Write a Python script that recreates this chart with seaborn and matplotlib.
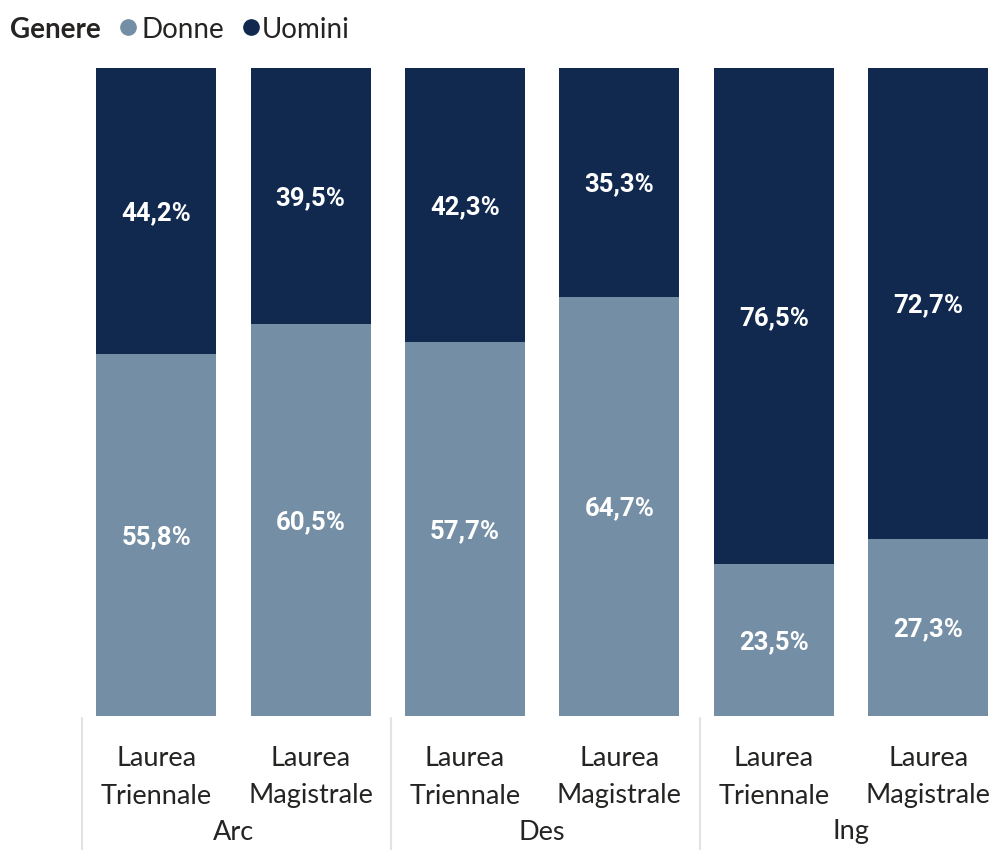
import numpy as np, pandas as pd
import matplotlib
matplotlib.use("Agg")
import matplotlib.pyplot as plt
import matplotlib.transforms as mtransforms
from matplotlib.lines import Line2D
import seaborn as sns

# ---------- data ----------
gruppi = ["Arc", "Arc", "Des", "Des", "Ing", "Ing"]
lauree = ["Laurea\nTriennale", "Laurea\nMagistrale"] * 3
donne = [55.8, 60.5, 57.7, 64.7, 23.5, 27.3]
uomini = [44.2, 39.5, 42.3, 35.3, 76.5, 72.7]

C_DONNE = "#748FA5"
C_UOMINI = "#11294F"
TXT = "#252423"

df = pd.DataFrame({"cat": [f"{g}|{l}" for g, l in zip(gruppi, lauree)],
                   "Donne": donne, "Uomini": uomini})
df["tot"] = df["Donne"] + df["Uomini"]
order = list(df["cat"])

sns.set_theme(style="white")
plt.rcParams["font.family"] = ["Lato", "DejaVu Sans"]

W, H = 1002, 850
fig = plt.figure(figsize=(W / 100, H / 100), dpi=100)
# axes: left edge of first slot ~79px, bars top 68px, bottom 716px
ax = fig.add_axes([79 / W, (H - 716) / H, (W - 79) / W, 648 / H])

bw = 120 / 154.4
sns.barplot(data=df, x="cat", y="tot", order=order, color=C_UOMINI,
            width=bw, saturation=1, linewidth=0, ax=ax)
sns.barplot(data=df, x="cat", y="Donne", order=order, color=C_DONNE,
            width=bw, saturation=1, linewidth=0, ax=ax)

ax.set_xlim(-0.5, -0.5 + (W - 79) / 154.4)
ax.set_ylim(0, 100)
ax.set_xticks([]); ax.set_yticks([])
ax.set_xlabel(""); ax.set_ylabel("")
for s in ax.spines.values():
    s.set_visible(False)

# value labels: baseline placed ~9px below segment centre
lab_tr = mtransforms.offset_copy(ax.transData, fig=fig, y=-9, units="dots")
lab_font = dict(family=["Roboto", "DejaVu Sans"], fontweight="bold",
                fontsize=18.5, color="white", ha="center", va="baseline",
                transform=lab_tr)
for i, (d, u) in enumerate(zip(donne, uomini)):
    ax.text(i, d / 2, f"{d:.1f}%".replace(".", ","), **lab_font)
    ax.text(i, d + u / 2, f"{u:.1f}%".replace(".", ","), **lab_font)

# two-level x axis labels
trans = mtransforms.blended_transform_factory(ax.transData, ax.transAxes)
for i, l in enumerate(lauree):
    l1, l2 = l.split("\n")
    ax.text(i, -42 / 648, l1, transform=trans, ha="center", va="center",
            fontsize=19.5, color=TXT, clip_on=False)
    ax.text(i, -80 / 648, l2, transform=trans, ha="center", va="center",
            fontsize=19.5, color=TXT, clip_on=False)
for k, g in enumerate(["Arc", "Des", "Ing"]):
    ax.text(2 * k + 0.5, -116 / 648, g, transform=trans, ha="center",
            va="center", fontsize=19.5, color=TXT, clip_on=False)
for xs in [-0.48, 1.52, 3.52]:
    ax.add_line(Line2D([xs, xs], [-2 / 648, -140 / 648], transform=trans,
                       color="#E3E3E3", lw=1.5, clip_on=False))

# legend
fig.text(10 / W, 1 - 38 / H, "Genere", fontsize=20, fontweight="bold",
         color=TXT, ha="left", va="baseline")
fig.add_artist(Line2D([128 / W], [1 - 27 / H], marker="o", ms=11,
                      color=C_DONNE, transform=fig.transFigure))
fig.text(141 / W, 1 - 38 / H, "Donne", fontsize=20, color=TXT,
         ha="left", va="baseline")
fig.add_artist(Line2D([251 / W], [1 - 27 / H], marker="o", ms=11,
                      color=C_UOMINI, transform=fig.transFigure))
fig.text(262 / W, 1 - 38 / H, "Uomini", fontsize=20, color=TXT,
         ha="left", va="baseline")

fig.savefig("out.png", dpi=100, facecolor="white")
